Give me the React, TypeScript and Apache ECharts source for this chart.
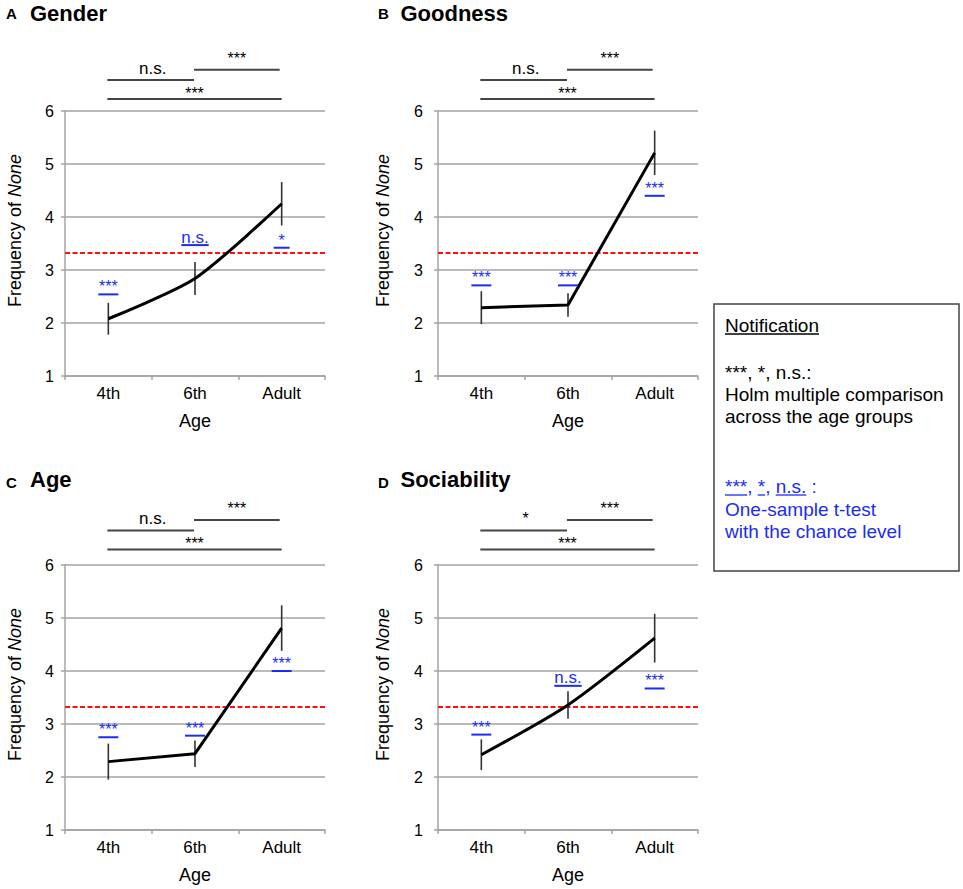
import React, { useEffect, useRef } from "react";
import * as echarts from "echarts";

// ---------- data ----------
const categories = ["4th", "6th", "Adult"];
const panelLetters = ["A", "B", "C", "D"];
const panelTitles = ["Gender", "Goodness", "Age", "Sociability"];
const yMin = 1;
const yMax = 6;
const yInterval = 1;
const chanceLevel = 3.33;

const genderMean = [2.08, 2.84, 4.25];
const genderErr = [0.3, 0.31, 0.41];
const goodnessMean = [2.29, 2.34, 5.21];
const goodnessErr = [0.31, 0.22, 0.42];
const ageMean = [2.29, 2.44, 4.81];
const ageErr = [0.34, 0.25, 0.43];
const sociabilityMean = [2.42, 3.36, 4.62];
const sociabilityErr = [0.29, 0.26, 0.46];

// one-sample t-test vs chance (blue, underlined) : label and level of underline
const genderChanceLabels = ["***", "n.s.", "*"];
const genderChanceMark = [2.54, 3.47, 3.42];
const goodnessChanceLabels = ["***", "***", "***"];
const goodnessChanceMark = [2.71, 2.71, 4.4];
const ageChanceLabels = ["***", "***", "***"];
const ageChanceMark = [2.75, 2.78, 4.0];
const sociabilityChanceLabels = ["***", "n.s.", "***"];
const sociabilityChanceMark = [2.8, 3.72, 3.67];

// Holm pairwise comparisons: pairs (4th-6th, 6th-Adult, 4th-Adult)
const sigPairs = [
  [0, 1],
  [1, 2],
  [0, 2],
];
const genderSig = ["n.s.", "***", "***"];
const goodnessSig = ["n.s.", "***", "***"];
const ageSig = ["n.s.", "***", "***"];
const sociabilitySig = ["*", "***", "***"];

// notification texts
const notificationTitle = "Notification";
const holmLines = ["***, *, n.s.:", "Holm multiple comparison", "across the age groups"];
const tTestKey = [
  { t: "***", u: true },
  { t: ", ", u: false },
  { t: "*", u: true },
  { t: ", ", u: false },
  { t: "n.s.", u: true },
  { t: " :", u: false },
];
const tTestLines = ["One-sample t-test", "with the chance level"];

// ---------- styles / layout ----------
const FONT = "'Liberation Sans', Arial, Helvetica, sans-serif";
const BLUE = "#1a2cf5";
const GRAY = "#a3a3a3";
const panelMeans = [genderMean, goodnessMean, ageMean, sociabilityMean];
const panelErrs = [genderErr, goodnessErr, ageErr, sociabilityErr];
const panelChanceLabels = [genderChanceLabels, goodnessChanceLabels, ageChanceLabels, sociabilityChanceLabels];
const panelChanceMarks = [genderChanceMark, goodnessChanceMark, ageChanceMark, sociabilityChanceMark];
const panelSig = [genderSig, goodnessSig, ageSig, sociabilitySig];
const panelSmooth = [0.25, false, false, 0.25];

const gridPos = [
  { left: 65, top: 111 },
  { left: 438, top: 111 },
  { left: 65, top: 565 },
  { left: 438, top: 565 },
];
const GW = 260;
const GH = 265;

function measure(text: string, fs: number, weight = "normal") {
  const ctx = document.createElement("canvas").getContext("2d");
  if (!ctx) return text.length * fs * 0.5;
  ctx.font = `${weight} ${fs}px ${FONT}`;
  return ctx.measureText(text).width;
}

// center y for a text with 'middle' vertical alignment, given its baseline
const cy = (baseline: number, fs: number) => baseline - 0.35 * fs;

export default function App() {
  const ref = useRef<HTMLDivElement>(null);

  useEffect(() => {
    document.body.style.margin = "0";
    if (!ref.current) return;
    const chart = echarts.init(ref.current, undefined, { renderer: "svg" });

    const grid = gridPos.map((g) => ({ left: g.left, top: g.top, width: GW, height: GH }));

    const xAxis = gridPos.map((_, p) => ({
      gridIndex: p,
      type: "category",
      data: categories,
      boundaryGap: true,
      axisLine: { show: true, lineStyle: { color: GRAY, width: 1.5 } },
      axisTick: { show: true, length: 4, lineStyle: { color: GRAY, width: 1.5 } },
      axisLabel: { fontSize: 17, color: "#000", margin: 9, fontFamily: FONT },
      name: "Age",
      nameLocation: "middle",
      nameGap: 36,
      nameTextStyle: { fontSize: 18, color: "#000", fontFamily: FONT },
    }));

    const yAxis = gridPos.map((_, p) => ({
      gridIndex: p,
      type: "value",
      min: yMin,
      max: yMax,
      interval: yInterval,
      axisLine: { show: true, lineStyle: { color: GRAY, width: 1.5 } },
      axisTick: { show: true, length: 4, lineStyle: { color: GRAY, width: 1.5 } },
      splitLine: { show: true, lineStyle: { color: GRAY, width: 1.5 } },
      axisLabel: { fontSize: 16, color: "#000", margin: p % 2 ? 15 : 11, fontFamily: FONT },
      name: "Frequency of {i|None}",
      nameLocation: "middle",
      nameGap: p % 2 ? 46 : 41,
      nameTextStyle: {
        fontSize: 18,
        color: "#000",
        fontFamily: FONT,
        padding: [0, 0, 0, 26],
        rich: { i: { fontSize: 18, fontStyle: "italic", color: "#000", fontFamily: FONT } },
      },
    }));

    const series: any[] = [];
    panelMeans.forEach((means, p) => {
      const errs = panelErrs[p];
      const chLabels = panelChanceLabels[p];
      const chMarks = panelChanceMarks[p];
      const sig = panelSig[p];
      const rowShift = p >= 2 ? -3.6 : 0;

      series.push({
        type: "line",
        xAxisIndex: p,
        yAxisIndex: p,
        data: means,
        smooth: panelSmooth[p],
        symbol: "none",
        z: 6,
        lineStyle: { color: "#000", width: 3 },
        markLine: {
          silent: true,
          symbol: "none",
          label: { show: false },
          lineStyle: { color: "#ff1010", type: [5, 2.5], width: 2 },
          data: [{ yAxis: chanceLevel }],
          z: 3,
        },
      });

      // error bars
      series.push({
        type: "custom",
        xAxisIndex: p,
        yAxisIndex: p,
        z: 5,
        clip: false,
        encode: { x: 0, y: 1 },
        data: means.map((m, i) => [i, m, errs[i]]),
        renderItem: (params: any, api: any) => {
          const x = api.value(0);
          const m = api.value(1);
          const e = api.value(2);
          const a = api.coord([x, m + e]);
          const b = api.coord([x, m - e]);
          return {
            type: "line",
            shape: { x1: a[0], y1: a[1], x2: b[0], y2: b[1] },
            style: { stroke: "#333", lineWidth: 1.6 },
          };
        },
      });

      // blue chance-level annotations
      series.push({
        type: "custom",
        xAxisIndex: p,
        yAxisIndex: p,
        z: 7,
        clip: false,
        encode: { x: 0, y: 1 },
        data: chMarks.map((v, i) => [i, v]),
        renderItem: (params: any, api: any) => {
          const label = chLabels[params.dataIndex];
          const pt = api.coord([api.value(0), api.value(1)]);
          const fs = label === "n.s." ? 17 : 16;
          const w = label === "***" ? 20 : label === "*" ? 16 : measure(label, fs);
          const base = pt[1] - 2;
          return {
            type: "group",
            children: [
              {
                type: "line",
                shape: { x1: pt[0] - w / 2, y1: pt[1], x2: pt[0] + w / 2, y2: pt[1] },
                style: { stroke: BLUE, lineWidth: 2 },
              },
              {
                type: "text",
                x: pt[0],
                y: cy(base, fs),
                style: { text: label, fontSize: fs, fontFamily: FONT, fill: BLUE, align: "center", verticalAlign: "middle" },
              },
            ],
          };
        },
      });

      // Holm comparison bars above plot
      const lineOffset = [-31, -41.3, -12];
      const endAdj = [-1, -2, 0];
      const labelRaise = [6, 6, 0];
      series.push({
        type: "custom",
        xAxisIndex: p,
        yAxisIndex: p,
        z: 7,
        clip: false,
        encode: { x: 0, y: 1 },
        data: sig.map((_, k) => [sigPairs[k][0], yMax]),
        renderItem: (params: any, api: any) => {
          const k = params.dataIndex;
          const [a, b] = sigPairs[k];
          const label = sig[k];
          const top = params.coordSys.y;
          const ly = top + lineOffset[k] + rowShift;
          const x1 = api.coord([a, yMax])[0] - 1;
          const x2 = api.coord([b, yMax])[0] + endAdj[k];
          const fs = label === "n.s." ? 17 : 16;
          const base = ly - labelRaise[k];
          const mid = (x1 + x2) / 2 + (k === 0 ? 2 : 0);
          return {
            type: "group",
            children: [
              {
                type: "line",
                shape: { x1, y1: ly, x2, y2: ly },
                style: { stroke: "#444", lineWidth: 2 },
              },
              {
                type: "text",
                x: mid,
                y: cy(base, fs),
                style: { text: label, fontSize: fs, fontFamily: FONT, fill: "#000", align: "center", verticalAlign: "middle" },
              },
            ],
          };
        },
      });
    });

    // ---------- graphic: titles and notification box ----------
    const graphic: any[] = [];
    panelLetters.forEach((L, p) => {
      const col = p % 2;
      const row = p >= 2 ? 1 : 0;
      const letterX = col ? 378 : 6;
      const titleX = col ? 400.5 : 30;
      const letterBase = row ? 487.5 : 18.3;
      const titleBase = row ? 487 : 21.5;
      graphic.push({
        type: "text",
        x: letterX,
        y: cy(letterBase, 15),
        style: { text: L, fontSize: 15, fontWeight: "bold", fontFamily: FONT, fill: "#000", align: "left", verticalAlign: "middle" },
      });
      graphic.push({
        type: "text",
        x: titleX,
        y: cy(titleBase, 22),
        style: { text: panelTitles[p], fontSize: 22, fontWeight: "bold", fontFamily: FONT, fill: "#000", align: "left", verticalAlign: "middle" },
      });
    });

    const boxX = 714;
    const boxY = 304;
    const boxW = 245;
    const boxH = 267;
    const tx = 725;
    const nfs = 19;
    graphic.push({
      type: "rect",
      shape: { x: boxX, y: boxY, width: boxW, height: boxH },
      style: { fill: "#fff", stroke: "#444", lineWidth: 1.5 },
      z: 1,
    });
    graphic.push({
      type: "text",
      x: tx,
      y: cy(332, nfs),
      z: 2,
      style: { text: notificationTitle, fontSize: nfs, fontFamily: FONT, fill: "#000", align: "left", verticalAlign: "middle" },
    });
    graphic.push({
      type: "line",
      z: 2,
      shape: { x1: tx, y1: 334, x2: tx + measure(notificationTitle, nfs), y2: 334 },
      style: { stroke: "#000", lineWidth: 1.3 },
    });
    holmLines.forEach((t, i) => {
      graphic.push({
        type: "text",
        x: tx,
        y: cy(379 + i * 22, nfs),
        z: 2,
        style: { text: t, fontSize: nfs, fontFamily: FONT, fill: "#000", align: "left", verticalAlign: "middle" },
      });
    });
    let cx = tx;
    const keyBase = 492.7;
    tTestKey.forEach((seg) => {
      const w = measure(seg.t, nfs);
      graphic.push({
        type: "text",
        x: cx,
        y: cy(keyBase, nfs),
        z: 2,
        style: { text: seg.t, fontSize: nfs, fontFamily: FONT, fill: BLUE, align: "left", verticalAlign: "middle" },
      });
      if (seg.u) {
        graphic.push({
          type: "line",
          z: 2,
          shape: { x1: cx, y1: keyBase + 2.3, x2: cx + w, y2: keyBase + 2.3 },
          style: { stroke: BLUE, lineWidth: 1.3 },
        });
      }
      cx += w;
    });
    tTestLines.forEach((t, i) => {
      graphic.push({
        type: "text",
        x: tx,
        y: cy(515.7 + i * 22.5, nfs),
        z: 2,
        style: { text: t, fontSize: nfs, fontFamily: FONT, fill: BLUE, align: "left", verticalAlign: "middle" },
      });
    });

    chart.setOption({
      animation: false,
      backgroundColor: "#fff",
      textStyle: { fontFamily: FONT },
      grid,
      xAxis,
      yAxis,
      series,
      graphic,
    } as any);

    return () => chart.dispose();
  }, []);

  return <div ref={ref} style={{ width: 963, height: 889 }} />;
}
